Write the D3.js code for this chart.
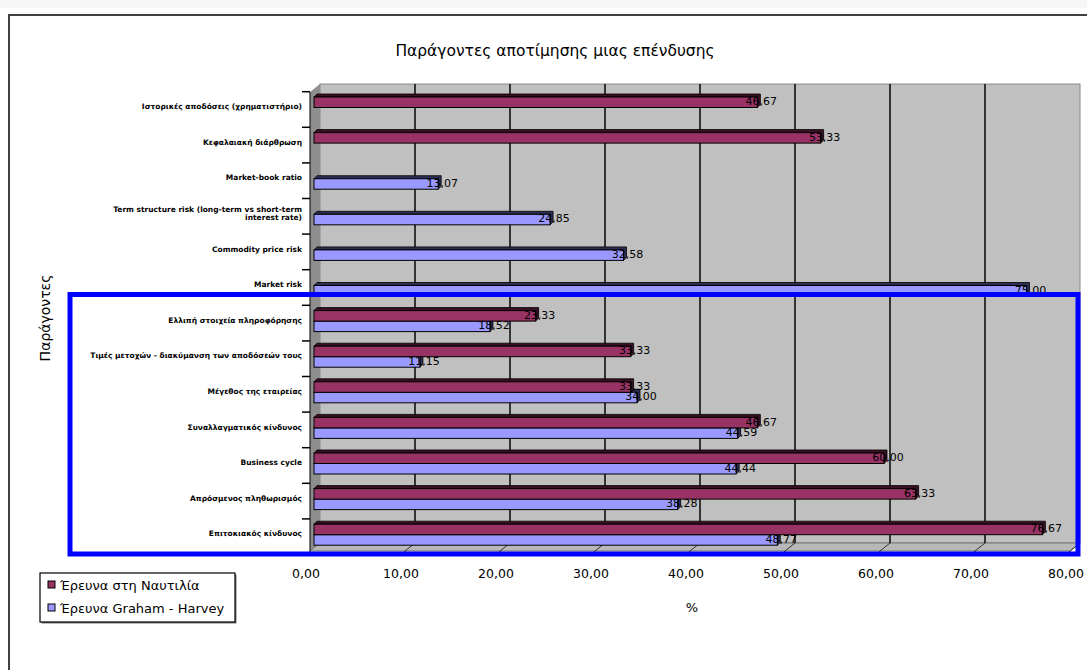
<!DOCTYPE html>
<html>
<head>
<meta charset="utf-8">
<script src="https://cdn.jsdelivr.net/npm/d3@7"></script>
<style>
  body { margin: 0; background: #fff; }
  svg text { font-family: "DejaVu Sans", "Liberation Sans", sans-serif; }
</style>
</head>
<body>
<script>
// categories, top to bottom
var categories = [
  "Ιστορικές αποδόσεις (χρηματιστήριο)",
  "Κεφαλαιακή διάρθρωση",
  "Market-book ratio",
  "Term structure risk (long-term vs short-term\ninterest rate)",
  "Commodity price risk",
  "Market risk",
  "Ελλιπή στοιχεία πληροφόρησης",
  "Τιμές μετοχών - διακύμανση των αποδόσεών τους",
  "Μέγεθος της εταιρείας",
  "Συναλλαγματικός κίνδυνος",
  "Business cycle",
  "Απρόσμενος πληθωρισμός",
  "Επιτοκιακός κίνδυνος"
];

var seriesNames = ["Έρευνα στη Ναυτιλία", "Έρευνα Graham - Harvey"];

var nautilia = [46.67, 53.33, null, null, null, null, 23.33, 33.33, 33.33, 46.67, 60.00, 63.33, 76.67];
var graham   = [null, null, 13.07, 24.85, 32.58, 75.00, 18.52, 11.15, 34.00, 44.59, 44.44, 38.28, 48.77];

var xTicks = [0, 10, 20, 30, 40, 50, 60, 70, 80];

var colors = ["#993366", "#9999ff"];
var topColors = ["#3a1024", "#2e2e55"];

var svg = d3.select("body").append("svg")
  .attr("width", 1087)
  .attr("height", 670);

// faint strip at the very top of the scan
svg.append("rect").attr("x", 0).attr("y", 0).attr("width", 1087).attr("height", 8).attr("fill", "#f6f6f6");

// outer chart frame (runs off the picture right & bottom)
svg.append("rect")
  .attr("x", 9).attr("y", 15)
  .attr("width", 1100).attr("height", 700)
  .attr("fill", "#fff")
  .attr("stroke", "#404040")
  .attr("stroke-width", 2);

// scales: bars sit mid-depth, grid on back wall, ticks on front edge
var x = d3.scaleLinear().domain([0, 80]).range([314, 1074]);
var xBack = d3.scaleLinear().domain([0, 80]).range([320, 1080]);
var xFront = d3.scaleLinear().domain([0, 80]).range([310, 1070]);
var wallTop = 84, wallBottom = 543, floorFront = 551;

var y0 = d3.scaleBand()
  .domain(categories)
  .range([89.7, 552.5])
  .paddingInner(0.41)
  .paddingOuter(0.205);

var y1 = d3.scaleBand()
  .domain(seriesNames)
  .range([0, y0.bandwidth()]);

var fmt = function(v) { return d3.format(".2f")(v).replace(".", ","); };

// back wall
svg.append("rect")
  .attr("x", xBack(0)).attr("y", wallTop)
  .attr("width", xBack(80) - xBack(0)).attr("height", wallBottom - wallTop)
  .attr("fill", "#c0c0c0")
  .attr("stroke", "#8a8a8a");

// left wall
svg.append("polygon")
  .attr("points", [[xFront(0), wallTop + 8], [xBack(0), wallTop], [xBack(0), wallBottom], [xFront(0), floorFront]].join(" "))
  .attr("fill", "#8e8e8e");

// floor
svg.append("polygon")
  .attr("points", [[xFront(0), floorFront], [xBack(0), wallBottom], [xBack(80), wallBottom], [xFront(80), floorFront]].join(" "))
  .attr("fill", "#b8b8b8")
  .attr("stroke", "#707070");

// gridlines
svg.append("g").selectAll("line")
  .data(xTicks.slice(1, -1))
  .enter().append("line")
  .attr("x1", function(d) { return xBack(d); })
  .attr("x2", function(d) { return xBack(d); })
  .attr("y1", wallTop)
  .attr("y2", wallBottom)
  .attr("stroke", "#111")
  .attr("stroke-width", 1.6);

svg.append("g").selectAll("line")
  .data(xTicks.slice(1))
  .enter().append("line")
  .attr("x1", function(d) { return xBack(d); })
  .attr("x2", function(d) { return xFront(d); })
  .attr("y1", wallBottom)
  .attr("y2", floorFront)
  .attr("stroke", "#333")
  .attr("stroke-width", 1);

// y axis line + ticks
svg.append("line")
  .attr("x1", xFront(0)).attr("x2", xFront(0))
  .attr("y1", wallTop + 8).attr("y2", floorFront)
  .attr("stroke", "#000");

var bounds = d3.range(categories.length + 1).map(function(i) {
  return y0.range()[0] + 2 + i * y0.step();
});
svg.append("g").selectAll("line")
  .data(bounds)
  .enter().append("line")
  .attr("x1", 302).attr("x2", xFront(0))
  .attr("y1", function(d) { return d; })
  .attr("y2", function(d) { return d; })
  .attr("stroke", "#000")
  .attr("stroke-width", 1.5);

// x ticks & labels
svg.append("g").selectAll("line")
  .data(xTicks)
  .enter().append("line")
  .attr("x1", function(d) { return xFront(d); })
  .attr("x2", function(d) { return xFront(d) - 2; })
  .attr("y1", floorFront)
  .attr("y2", floorFront + 5)
  .attr("stroke", "#000");

svg.append("g").selectAll("text")
  .data(xTicks)
  .enter().append("text")
  .attr("x", function(d) { return xFront(d) - 4; })
  .attr("y", 578)
  .attr("text-anchor", "middle")
  .attr("font-size", 12.5)
  .text(fmt);

// bars: build rows from the arrays
var rows = categories.map(function(c, i) {
  return { cat: c, values: [nautilia[i], graham[i]] };
});

var d = 3;
var group = svg.append("g").selectAll("g")
  .data(rows)
  .enter().append("g")
  .attr("transform", function(r) { return "translate(0," + y0(r.cat) + ")"; });

var bars = group.selectAll("g")
  .data(function(r) {
    return seriesNames.map(function(s, j) { return { key: s, j: j, value: r.values[j] }; })
      .filter(function(b) { return b.value !== null; })
      .reverse(); // blue first so maroon covers its top face
  })
  .enter().append("g");

bars.append("polygon")
  .attr("points", function(b) {
    var yy = y1(b.key), x0 = x(0), x1 = x(b.value), h = y1.bandwidth();
    return [[x0, yy], [x0 + d, yy - d], [x1 + d, yy - d], [x1 + d, yy + h - d], [x1, yy + h], [x1, yy]].join(" ");
  })
  .attr("fill", function(b) { return topColors[b.j]; })
  .attr("stroke", "#000")
  .attr("stroke-width", 0.8);

bars.append("rect")
  .attr("x", x(0))
  .attr("y", function(b) { return y1(b.key); })
  .attr("width", function(b) { return x(b.value) - x(0); })
  .attr("height", y1.bandwidth())
  .attr("fill", function(b) { return colors[b.j]; })
  .attr("stroke", "#000")
  .attr("stroke-width", 1);

bars.append("text")
  .attr("x", function(b) { return x(b.value) + 4; })
  .attr("y", function(b) { return y1(b.key) + y1.bandwidth() / 2 - 1; })
  .attr("dy", "0.35em")
  .attr("text-anchor", "middle")
  .attr("font-size", 11)
  .text(function(b) { return fmt(b.value); });

// category labels
var catLabels = svg.append("g").selectAll("text")
  .data(categories)
  .enter().append("text")
  .attr("text-anchor", "end")
  .attr("font-size", 7.5)
  .attr("font-weight", "bold")
  .attr("transform", function(c) {
    var lines = c.split("\n").length;
    return "translate(302," + (y0(c) + y0.bandwidth() / 2 - 1 - (lines - 1) * 4) + ")";
  });

catLabels.selectAll("tspan")
  .data(function(c) { return c.split("\n"); })
  .enter().append("tspan")
  .attr("x", 0)
  .attr("dy", function(t, i) { return i === 0 ? "0.35em" : "8"; })
  .text(function(t) { return t; });

// titles
svg.append("text")
  .attr("x", 555).attr("y", 56)
  .attr("text-anchor", "middle")
  .attr("font-size", 15.5)
  .text("Παράγοντες αποτίμησης μιας επένδυσης");

svg.append("text")
  .attr("transform", "translate(50,318) rotate(-90)")
  .attr("text-anchor", "middle")
  .attr("font-size", 14)
  .text("Παράγοντες");

svg.append("text")
  .attr("x", 692).attr("y", 612)
  .attr("text-anchor", "middle")
  .attr("font-size", 13)
  .text("%");

// blue highlight box
svg.append("rect")
  .attr("x", 70).attr("y", 294.5)
  .attr("width", 1008).attr("height", 259.5)
  .attr("fill", "none")
  .attr("stroke", "#0000ff")
  .attr("stroke-width", 5);

// legend
var legend = svg.append("g").attr("transform", "translate(40,573)");
legend.append("rect")
  .attr("x", 1.5).attr("y", 1.5).attr("width", 195).attr("height", 49)
  .attr("fill", "#777");
legend.append("rect")
  .attr("width", 195).attr("height", 49)
  .attr("fill", "#fff")
  .attr("stroke", "#000")
  .attr("stroke-width", 1.2);

var li = legend.selectAll("g")
  .data(seriesNames)
  .enter().append("g")
  .attr("transform", function(s, i) { return "translate(0," + (12 + i * 23) + ")"; });

li.append("rect")
  .attr("x", 8).attr("y", -4).attr("width", 7).attr("height", 7)
  .attr("fill", function(s, i) { return colors[i]; })
  .attr("stroke", "#000");

li.append("text")
  .attr("x", 20).attr("y", 0)
  .attr("dy", "0.35em")
  .attr("font-size", 13)
  .text(function(s) { return s; });
</script>
</body>
</html>
